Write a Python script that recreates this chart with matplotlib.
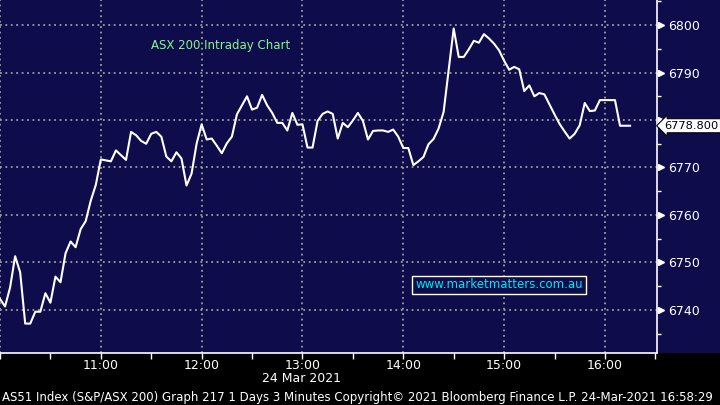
import matplotlib.pyplot as plt
import matplotlib.dates as mdates
import numpy as np
from matplotlib.patches import Rectangle
from matplotlib.transforms import blended_transform_factory

NAVY = (0.055, 0.047, 0.29)
GRID = (0.62, 0.62, 0.62)
GREEN = (0.5, 0.98, 0.55)
CYAN = (0.0, 0.9, 0.95)

# AS51 index, 3 minute bars from 10:00 on 24 Mar 2021
start_time = np.datetime64('2021-03-24T10:00')
bar_minutes = 3
closes = [
    6742.3, 6740.7, 6744.7, 6751.3, 6747.9, 6737.1, 6737.1, 6739.6, 6739.6, 6743.5,
    6741.5, 6747.0, 6745.8, 6751.9, 6754.4, 6753.2, 6757.0, 6758.7, 6763.0, 6766.3,
    6771.7, 6771.5, 6771.3, 6773.6, 6772.6, 6771.6, 6777.5, 6776.8, 6775.6, 6775.0,
    6777.1, 6777.5, 6776.5, 6772.3, 6771.3, 6773.2, 6771.9, 6766.2, 6768.7, 6775.0,
    6779.1, 6775.9, 6776.1, 6774.6, 6773.0, 6775.1, 6776.5, 6781.2, 6783.1, 6785.0,
    6782.2, 6782.6, 6785.3, 6783.1, 6781.5, 6779.4, 6779.4, 6777.8, 6781.5, 6779.0,
    6779.1, 6774.2, 6774.2, 6779.8, 6781.3, 6781.8, 6781.3, 6776.1, 6779.4, 6778.5,
    6779.9, 6781.5, 6779.8, 6775.9, 6777.7, 6777.8, 6777.8, 6777.5, 6778.0, 6776.5,
    6774.1, 6774.1, 6770.5, 6771.3, 6772.2, 6774.9, 6776.0, 6778.2, 6781.7, 6790.5,
    6799.3, 6793.3, 6793.3, 6794.9, 6796.7, 6796.3, 6798.1, 6797.2, 6796.1, 6794.7,
    6792.5, 6790.6, 6791.2, 6790.7, 6786.1, 6787.3, 6785.0, 6785.7, 6785.4, 6783.3,
    6781.2, 6779.2, 6777.6, 6776.1, 6777.1, 6778.9, 6783.6, 6781.9, 6782.0, 6784.2,
    6784.2, 6784.2, 6784.2, 6778.8, 6778.8, 6778.8,
]
last_price = 6778.8
y_ticks = [6740, 6750, 6760, 6770, 6780, 6790, 6800]
title = "ASX 200 Intraday Chart"
watermark = "www.marketmatters.com.au"
date_label = "24 Mar 2021"
footer = ("AS51 Index (S&P/ASX 200) Graph 217 1 Days 3 Minutes Copyright\u00a9 2021 "
          "Bloomberg Finance L.P. 24-Mar-2021 16:58:29")

times = start_time + np.arange(len(closes)) * np.timedelta64(bar_minutes, 'm')
times = times.astype('datetime64[s]').astype(object)

fig = plt.figure(figsize=(7.2, 4.05), dpi=100, facecolor=NAVY)
# black strip under the plot, kept behind the axes so tick labels show
fig.patches.append(Rectangle((0, 0), 1, 52 / 405, transform=fig.transFigure,
                             facecolor='black', zorder=-1))
ax = fig.add_axes([0, 52 / 405, 657 / 720, 353 / 405])
ax.set_facecolor(NAVY)

ax.plot(times, closes, color='white', lw=1.5, zorder=3)

ax.set_xlim(np.datetime64('2021-03-24T10:00').astype(object),
            np.datetime64('2021-03-24T16:31').astype(object))
ax.set_ylim(6730.9, 6805.3)

ax.xaxis.set_major_locator(mdates.HourLocator())
ax.xaxis.set_minor_locator(mdates.MinuteLocator(byminute=[30]))
ax.xaxis.set_major_formatter(mdates.DateFormatter('%H:%M'))
ax.yaxis.tick_right()
ax.set_yticks(y_ticks)
ax.set_yticks(np.arange(6735, 6806, 5), minor=True)

ax.grid(True, which='major', color=GRID, ls=(0, (1, 2)), lw=1.3)
for side in ['top', 'left']:
    ax.spines[side].set_visible(False)
for side in ['bottom', 'right']:
    ax.spines[side].set_color('white')
    ax.spines[side].set_linewidth(1.2)

ax.tick_params(axis='x', which='both', colors='white', length=4, width=1,
               labelsize=9, pad=0)
ax.tick_params(axis='y', which='major', colors='white', length=0, labelsize=9, pad=8)
ax.tick_params(axis='y', which='minor', colors='white', length=3, width=1)

# small pointers at the major y ticks
trans = blended_transform_factory(ax.transAxes, ax.transData)
ax.plot([1.006] * len(y_ticks), y_ticks, ls='none', marker='>', ms=5,
        color='white', transform=trans, clip_on=False)

# last price tag (covers the 6780 label, as on the terminal)
ax.text(1.011, last_price, f"{last_price:.3f}", transform=trans, fontsize=8.2,
        color='black', va='center', ha='left', zorder=10,
        bbox=dict(boxstyle='larrow,pad=0.18', fc='white', ec='black', lw=0.8))

ax.text(151 / 657, 1 - 46 / 353, title, transform=ax.transAxes, color=GREEN,
        fontsize=8.5, va='center', ha='left')
ax.text(499 / 657, 1 - 285 / 353, watermark, transform=ax.transAxes, color=CYAN,
        fontsize=8.5, va='center', ha='center',
        bbox=dict(boxstyle='square,pad=0.25', fc=NAVY, ec='white', lw=1))

fig.text(302 / 720, 1 - 379 / 405, date_label, color='white', fontsize=9,
         ha='center', va='center')
fig.text(2 / 720, 1 - 397 / 405, footer, color='white', fontsize=8.5,
         ha='left', va='center')

fig.canvas.draw()
for lbl in ax.xaxis.get_majorticklabels():
    if lbl.get_text() == '10:00':
        lbl.set_visible(False)
for lbl in ax.yaxis.get_majorticklabels():
    if lbl.get_text() == '6780':
        lbl.set_visible(False)

fig.savefig('out.png', dpi=100, facecolor=fig.get_facecolor())
